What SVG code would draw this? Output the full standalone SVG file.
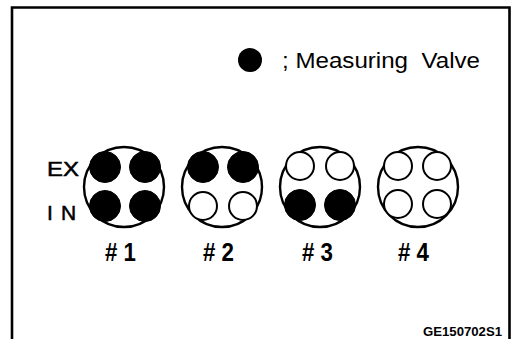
<svg xmlns="http://www.w3.org/2000/svg" width="512" height="339" viewBox="0 0 512 339">
<style>
.frame{fill:none;stroke:#000;stroke-width:2.6}
.big{fill:#fff;stroke:#000;stroke-width:2.4}
.on{fill:#000;stroke:#000;stroke-width:1}
.off{fill:#fff;stroke:#000;stroke-width:2}
.lbl{font-family:"Liberation Sans",Arial,sans-serif;fill:#000}
.row{font-family:"Liberation Sans",Arial,sans-serif;font-size:21px;fill:#000;stroke:#000;stroke-width:0.5}
.num{font-family:"Liberation Sans",Arial,sans-serif;font-weight:bold;font-size:25px;fill:#000}
</style>
<rect width="512" height="339" fill="#fff"/>
<path class="frame" d="M12,340 V7.5 H509.5 V340"/>
<g id="legend">
<circle cx="250" cy="60" r="12" fill="#000"/>
<text class="lbl" x="282" y="67.5" font-size="21.5" xml:space="preserve" style="white-space:pre" textLength="198" lengthAdjust="spacingAndGlyphs">; Measuring  Valve</text>
</g>
<g id="row-labels">
<text class="row" x="47" y="176" textLength="32" lengthAdjust="spacingAndGlyphs">EX</text>
<text class="row" x="47" y="220">I</text>
<text class="row" x="61" y="220">N</text>
</g>
<g id="cyl1">
<circle class="big" cx="124" cy="187" r="40"/>
<circle class="on" cx="105" cy="167" r="15.5"/>
<circle class="on" cx="145" cy="167" r="15.5"/>
<circle class="on" cx="105" cy="206" r="15.5"/>
<circle class="on" cx="145" cy="206" r="15.5"/>
<text class="num" x="105" y="261" textLength="31" lengthAdjust="spacingAndGlyphs"># 1</text>
</g>
<g id="cyl2">
<circle class="big" cx="222" cy="187" r="40"/>
<circle class="on" cx="203" cy="167" r="15.5"/>
<circle class="on" cx="243" cy="167" r="15.5"/>
<circle class="off" cx="203" cy="206" r="14"/>
<circle class="off" cx="243" cy="206" r="14"/>
<text class="num" x="203" y="261" textLength="31" lengthAdjust="spacingAndGlyphs"># 2</text>
</g>
<g id="cyl3">
<circle class="big" cx="320" cy="187" r="40"/>
<circle class="off" cx="300" cy="166" r="14"/>
<circle class="off" cx="340" cy="166" r="14"/>
<circle class="on" cx="300" cy="205" r="15.5"/>
<circle class="on" cx="340" cy="205" r="15.5"/>
<text class="num" x="302" y="261" textLength="31" lengthAdjust="spacingAndGlyphs"># 3</text>
</g>
<g id="cyl4">
<circle class="big" cx="418" cy="187" r="40"/>
<circle class="off" cx="398" cy="166" r="14"/>
<circle class="off" cx="437" cy="166" r="14"/>
<circle class="off" cx="398" cy="204" r="14"/>
<circle class="off" cx="437" cy="204" r="14"/>
<text class="num" x="398" y="261" textLength="31" lengthAdjust="spacingAndGlyphs"># 4</text>
</g>
<g id="connectors"></g>
<text class="lbl" x="423" y="336" font-size="12.5" font-weight="bold" textLength="79" lengthAdjust="spacingAndGlyphs">GE150702S1</text>
</svg>
